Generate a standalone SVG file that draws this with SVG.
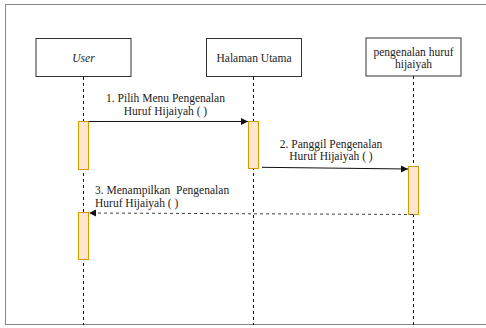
<svg xmlns="http://www.w3.org/2000/svg" width="486" height="328" viewBox="0 0 486 328">
<style>
.t{font-family:'Liberation Serif',serif;font-size:11.5px;fill:#222}
.box{fill:#fff;stroke:#333;stroke-width:1}
.life{stroke:#111;stroke-width:1;stroke-dasharray:3,3}
.act{fill:#ffe6cc;stroke:#d79b00;stroke-width:1}
.msg{stroke:#111;stroke-width:1;fill:none}
.ret{stroke:#444;stroke-width:1;fill:none;stroke-dasharray:3,3}
</style>
<defs>
<marker id="ah" markerWidth="8" markerHeight="8" refX="7" refY="4" orient="auto" markerUnits="userSpaceOnUse">
<path d="M0,0.5 L7,4 L0,7.5 Z" fill="#111"/>
</marker>
</defs>
<rect x="0" y="0" width="486" height="328" fill="#fff"/>
<path d="M5,4.5 H486 M5.5,4 V325 M5,324.5 H486" stroke="#888" stroke-width="1" fill="none"/>
<g id="user">
<rect class="box" x="36" y="38.5" width="95" height="38"/>
<text class="t" x="83.5" y="61.5" text-anchor="middle" font-style="italic">User</text>
<line class="life" x1="83.5" y1="77" x2="83.5" y2="325"/>
<rect class="act" x="78.5" y="121.5" width="10" height="48"/>
<rect class="act" x="78.5" y="212.5" width="10" height="47"/>
</g>
<g id="halaman">
<rect class="box" x="206.5" y="38.5" width="95" height="38"/>
<text class="t" x="254" y="61.5" text-anchor="middle">Halaman Utama</text>
<line class="life" x1="253.5" y1="77" x2="253.5" y2="325"/>
<rect class="act" x="248.5" y="121.5" width="10" height="47"/>
</g>
<g id="pengenalan">
<rect class="box" x="366" y="38" width="95" height="38"/>
<text class="t" x="413.5" y="56" text-anchor="middle">pengenalan huruf</text>
<text class="t" x="413.5" y="68" text-anchor="middle">hijaiyah</text>
<line class="life" x1="413.5" y1="76" x2="413.5" y2="325"/>
<rect class="act" x="408.5" y="166.5" width="10" height="48"/>
</g>
<g id="connectors">
<line class="msg" x1="88.5" y1="121.5" x2="248" y2="121.5" marker-end="url(#ah)"/>
<text class="t" x="165.5" y="102" text-anchor="middle">1. Pilih Menu Pengenalan</text>
<text class="t" x="165.5" y="115" text-anchor="middle">Huruf Hijaiyah ( )</text>
<line class="msg" x1="262" y1="167.3" x2="408" y2="169" marker-end="url(#ah)"/>
<text class="t" x="331" y="148" text-anchor="middle">2. Panggil Pengenalan</text>
<text class="t" x="331" y="160" text-anchor="middle">Huruf Hijaiyah ( )</text>
<line class="ret" x1="413" y1="214.5" x2="89" y2="213" marker-end="url(#ah)"/>
<text class="t" x="95" y="193.5" xml:space="preserve">3. Menampilkan  Pengenalan</text>
<text class="t" x="95" y="206.5">Huruf Hijaiyah ( )</text>
</g>
</svg>
